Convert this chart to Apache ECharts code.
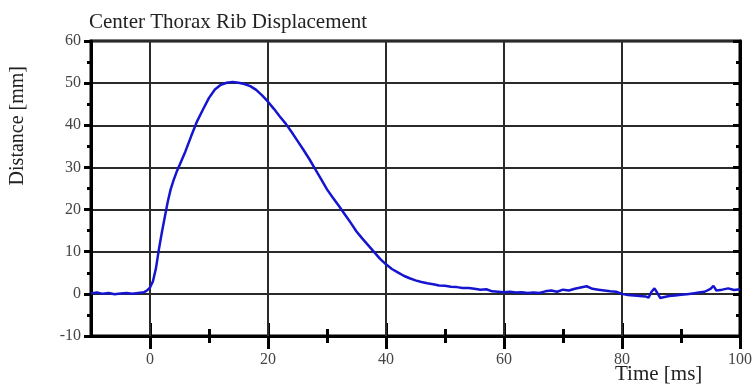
<!DOCTYPE html>
<html>
<head>
<meta charset="utf-8">
<script src="https://cdn.jsdelivr.net/npm/echarts@6/dist/echarts.min.js"></script>
<style>
html,body{margin:0;padding:0;background:#fff;}
#chart{width:755px;height:392px;}
</style>
</head>
<body>
<div id="chart"></div>
<script>
var titleText = 'Center Thorax Rib Displacement';
var xName = 'Time [ms]';
var yName = 'Distance [mm]';
var xMajorTicks = [0, 20, 40, 60, 80, 100];
var xMinorTicks = [10, 30, 50, 70, 90];
var xGridLines = [0, 20, 40, 60, 80];

var timeMs = [-10,-9,-8,-7,-6,-5,-4,-3,-2,-1,-0.5,0,0.5,1,1.5,2,2.5,3,3.5,4,4.5,5,6,7,8,9,10,11,12,13,14,15,16,17,18,19,20,21,22,23,24,25,26,27,28,29,30,31,32,33,34,35,36,37,38,39,40,41,42,43,44,45,46,47,48,49,50,51,52,53,54,55,56,57,58,59,60,61,62,63,64,65,66,67,68,69,70,71,72,73,74,75,76,77,78,79,80,81,82,83,84,84.5,85,85.5,86,86.5,87,88,89,90,91,92,93,94,95,95.5,96,97,98,99,100];
var distanceMm = [0.1,0.3,0.0,0.2,-0.1,0.1,0.2,0.0,0.2,0.4,0.8,1.5,3.0,6.0,10.5,14.5,18.2,21.8,24.8,27.0,28.9,30.5,33.8,37.5,41.0,43.8,46.5,48.5,49.6,50.1,50.3,50.1,49.8,49.3,48.4,47.1,45.6,43.9,42.1,40.4,38.4,36.3,34.2,32.0,29.6,27.2,24.8,22.8,20.9,18.9,16.9,14.8,13.1,11.5,9.9,8.3,7.0,5.9,5.1,4.3,3.7,3.2,2.8,2.5,2.3,2.0,1.9,1.7,1.6,1.4,1.4,1.2,1.0,1.1,0.6,0.5,0.4,0.5,0.3,0.4,0.2,0.3,0.2,0.6,0.8,0.5,1.0,0.8,1.2,1.5,1.8,1.2,1.0,0.8,0.6,0.5,0.0,-0.3,-0.4,-0.5,-0.6,-0.9,0.5,1.3,0.2,-1.0,-0.8,-0.5,-0.4,-0.2,-0.1,0.1,0.3,0.5,1.2,1.9,0.8,1.0,1.3,0.9,1.1];

var seriesData = timeMs.map(function (t, i) { return [t, distanceMm[i]]; });

var FONT = "'Liberation Serif', 'DejaVu Serif', serif";
var chart = echarts.init(document.getElementById('chart'));

function xAx(ticks, len, inside, showLabel, showLine) {
  return {
    type: 'value', min: -10, max: 100, interval: 10, position: 'bottom',
    axisLine: { show: showLine, onZero: false, lineStyle: { color: '#000', width: 3 } },
    axisTick: { show: true, customValues: ticks, length: len, inside: inside, lineStyle: { color: '#000', width: 3 } },
    axisLabel: showLabel ? { show: true, customValues: xMajorTicks, margin: 16, fontFamily: FONT, fontSize: 16, color: '#444' } : { show: false },
    splitLine: { show: false }
  };
}
function yAx(inside, showLabel, showSplit) {
  return {
    type: 'value', min: -10, max: 60, interval: 10,
    axisLine: { show: true, onZero: false, lineStyle: { color: '#000', width: 3 } },
    axisTick: { show: true, length: 7, inside: inside, lineStyle: { color: '#000', width: 3 } },
    minorTick: { show: true, splitNumber: 2, length: 4, lineStyle: { color: '#000', width: 3 } },
    axisLabel: showLabel ? { show: true, margin: 10, fontFamily: FONT, fontSize: 16, color: '#444' } : { show: false },
    splitLine: { show: showSplit, lineStyle: { color: '#2a2a2a', width: 2 } }
  };
}

chart.setOption({
  animation: false,
  backgroundColor: '#fff',
  title: {
    text: titleText, left: 84, top: 7,
    textStyle: { fontFamily: FONT, fontSize: 21, fontWeight: 'normal', color: '#222' }
  },
  grid: { left: 91, right: 13, top: 41, bottom: 56, show: true, borderColor: '#000', borderWidth: 3, backgroundColor: 'transparent' },
  xAxis: [
    xAx(xMajorTicks, 13, false, true, true),
    xAx(xMajorTicks, 13, true, false, false),
    xAx(xMinorTicks, 7, false, false, false),
    xAx(xMinorTicks, 7, true, false, false)
  ],
  yAxis: [
    yAx(false, true, true),
    yAx(true, false, false)
  ],
  graphic: [
    { type: 'text', left: 8, top: 66, rotation: Math.PI / 2, style: { text: yName, fontFamily: FONT, fontSize: 20, fill: '#222' } },
    { type: 'text', left: 615, top: 364, style: { text: xName, fontFamily: FONT, fontSize: 21, fill: '#222' } }
  ],
  series: [
    {
      type: 'line', data: [], z: 1, silent: true,
      markLine: {
        silent: true, symbol: 'none', animation: false,
        label: { show: false },
        lineStyle: { color: '#2a2a2a', width: 2, type: 'solid' },
        data: xGridLines.map(function (v) { return { xAxis: v }; })
      }
    },
    {
      type: 'line', data: seriesData, z: 5, showSymbol: false, smooth: false,
      lineStyle: { color: '#1515d0', width: 2.5 }
    }
  ]
});
</script>
</body>
</html>
